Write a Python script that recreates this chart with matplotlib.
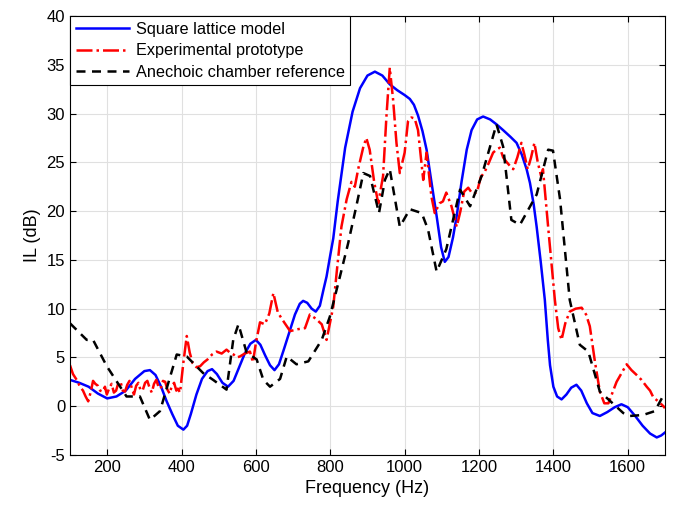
import numpy as np
import matplotlib.pyplot as plt

plt.rcParams['font.family'] = ['Liberation Sans', 'DejaVu Sans']
plt.rcParams['axes.unicode_minus'] = False

# Square lattice model (smooth)
f_model = [100, 125, 150, 175, 200, 225, 250, 275, 300, 315, 330, 345, 360, 375,
           390, 405, 415, 425, 440, 455, 470, 482, 495, 510, 525, 540, 555, 570,
           585, 600, 612, 625, 638, 650, 662, 675, 690, 705, 718, 727, 738, 750,
           761, 772, 782, 790, 800, 808, 820, 840, 860, 880, 900, 920, 940, 960,
           980, 1000, 1014, 1025, 1036, 1048, 1059, 1072, 1086, 1098, 1108, 1118,
           1130, 1140, 1153, 1167, 1180, 1195, 1211, 1230, 1247, 1265, 1285, 1301,
           1315, 1328, 1337, 1347, 1355, 1366, 1377, 1385, 1391, 1400, 1410, 1422,
           1435, 1448, 1462, 1475, 1490, 1505, 1525, 1545, 1565, 1583, 1600, 1620,
           1640, 1660, 1678, 1690, 1700]
il_model = [2.7, 2.4, 2.0, 1.3, 0.8, 1.0, 1.6, 2.8, 3.6, 3.7, 3.2, 2.0, 0.5, -0.8,
            -2.0, -2.4, -2.0, -0.8, 1.2, 2.8, 3.6, 3.8, 3.3, 2.4, 2.0, 2.6, 4.0, 5.4,
            6.4, 6.8, 6.3, 5.2, 4.2, 3.7, 4.3, 5.8, 7.6, 9.4, 10.5, 10.8, 10.6, 10.0,
            9.7, 10.3, 12.0, 13.3, 15.5, 17.2, 21.0, 26.5, 30.2, 32.6, 33.9, 34.3, 33.9, 33.0,
            32.4, 31.9, 31.5, 30.9, 29.8, 28.2, 26.3, 23.0, 19.5, 16.3, 14.8, 15.3,
            17.3, 19.5, 23.0, 26.3, 28.3, 29.4, 29.7, 29.4, 28.9, 28.3, 27.6, 27.0,
            25.8, 24.3, 22.9, 20.7, 18.4, 14.8, 10.9, 6.8, 4.2, 2.0, 1.0, 0.7,
            1.2, 1.9, 2.2, 1.6, 0.3, -0.7, -1.0, -0.6, -0.1, 0.2, -0.1, -1.0,
            -2.0, -2.8, -3.2, -3.0, -2.7]

# Experimental prototype (noisy)
f_exp = [100, 108, 118, 127, 135, 142, 149, 156, 162, 168, 175, 181, 188, 194, 199,
         206, 212, 218, 224, 230, 236, 242, 248, 254, 260, 266, 272, 278, 284, 290,
         296, 302, 308, 314, 320, 326, 332, 338, 344, 350, 356, 362, 368, 374, 380,
         386, 390, 396, 405, 414, 422, 430, 440, 450, 460, 470, 482, 494, 508, 521,
         530, 540, 548, 557, 570, 584, 592, 600, 611, 624, 636, 647, 659, 676, 692,
         713, 732, 745, 760, 777, 790, 808, 818, 830, 844, 857, 866, 875, 889, 897,
         906, 918, 929, 942, 951, 960, 969, 978, 987, 1000, 1009, 1018, 1027, 1036,
         1050, 1059, 1072, 1081, 1094, 1103, 1112, 1126, 1140, 1150, 1160, 1171,
         1182, 1194, 1205, 1215, 1227, 1238, 1247, 1256, 1265, 1275, 1284, 1292,
         1303, 1314, 1322, 1331, 1340, 1349, 1358, 1367, 1372, 1388, 1404, 1413,
         1422, 1432, 1444, 1460, 1476, 1488, 1498, 1512, 1525, 1537, 1548, 1560,
         1570, 1585, 1597, 1610, 1624, 1637, 1651, 1660, 1669, 1682, 1696, 1700]
il_exp = [4.2, 3.3, 2.7, 2.0, 1.6, 1.0, 0.5, 1.5, 2.6, 2.3, 2.1, 1.6, 1.5, 2.0, 1.2,
          1.9, 2.3, 1.4, 1.6, 2.4, 2.5, 1.6, 1.5, 2.2, 2.6, 1.9, 1.2, 2.1, 2.4, 1.6,
          1.7, 2.4, 2.6, 1.9, 1.4, 2.3, 2.7, 2.0, 1.8, 2.6, 2.5, 1.7, 1.3, 2.1, 2.4,
          1.6, 1.8, 1.4, 4.5, 7.2, 5.5, 4.4, 4.0, 4.1, 4.5, 4.8, 5.3, 5.6, 5.4, 5.8,
          5.5, 5.3, 5.0, 5.1, 5.4, 5.6, 4.5, 6.5, 8.6, 8.4, 9.5, 11.6, 9.6, 8.6, 7.7,
          7.9, 8.0, 9.4, 9.0, 8.4, 6.8, 10.2, 14.0, 18.4, 21.2, 23.0, 22.5, 24.3, 26.6, 27.5,
          26.3, 23.0, 20.8, 23.6, 29.7, 34.7, 31.4, 27.0, 23.9, 26.0, 29.2, 29.6, 29.5, 28.3,
          23.2, 26.0, 21.5, 19.8, 20.8, 21.0, 21.9, 20.5, 18.4, 20.0, 22.0, 22.4,
          21.8, 21.9, 23.5, 24.0, 25.0, 26.0, 26.3, 26.5, 25.5, 25.0, 24.6, 24.3,
          25.5, 27.0, 25.8, 24.3, 25.5, 27.0, 25.0, 23.6, 24.3, 17.5, 10.9, 8.0,
          6.8, 8.5, 9.7, 10.0, 10.1, 9.4, 8.2, 4.5, 1.5, 0.3, 0.3, 1.5,
          2.5, 3.5, 4.3, 3.7, 3.2, 2.7, 2.0, 1.6, 0.9, 0.5, 0.0, -0.2]

# Anechoic chamber reference
f_ref = [100, 145, 162, 199, 252, 288, 315, 342, 387, 414, 458, 485, 521, 539,
         553, 575, 602, 620, 638, 665, 683, 709, 741, 777, 799, 826, 848, 870,
         889, 907, 931, 947, 960, 987, 1014, 1046, 1063, 1086, 1112, 1149, 1176,
         1207, 1247, 1265, 1287, 1310, 1355, 1386, 1399, 1418, 1444, 1471, 1494,
         1525, 1588, 1605, 1641, 1673, 1700]
il_ref = [8.5, 6.8, 6.8, 4.1, 1.0, 1.0, -1.4, -0.5, 5.3, 5.1, 3.4, 2.7, 1.7, 6.8,
          8.4, 5.5, 4.8, 2.7, 2.0, 2.8, 5.1, 4.3, 4.6, 6.8, 9.2, 13.3, 16.7, 20.5,
          23.9, 23.6, 19.8, 23.2, 24.3, 18.4, 20.2, 19.8, 18.1, 13.8, 16.1, 22.2, 20.5,
          23.6, 28.9, 26.6, 19.1, 18.6, 21.7, 26.3, 26.2, 21.2, 10.9, 6.3, 5.6,
          1.5, -0.7, -1.0, -0.9, -0.5, 1.4]

fig = plt.figure(figsize=(6.73, 5.11), dpi=100)
ax = fig.add_axes([0.104, 0.1096, 0.884, 0.859])

ax.plot(f_model, il_model, color='#0000ff', lw=1.8, label='Square lattice model')
ax.plot(f_exp, il_exp, color='#ff0000', lw=1.8, ls='-.', label='Experimental prototype')
ax.plot(f_ref, il_ref, color='black', lw=1.8, ls=(0, (3.6, 2.6)), label='Anechoic chamber reference')

ax.set_xlim(100, 1700)
ax.set_ylim(-5, 40)
ax.set_xticks(np.arange(200, 1700, 200))
ax.set_yticks(np.arange(-5, 41, 5))
ax.grid(True, color='#e0e0e0', lw=0.8)
ax.set_axisbelow(True)
ax.tick_params(direction='in', labelsize=12, top=True, right=True, length=4)
for s in ax.spines.values():
    s.set_linewidth(0.8)

ax.set_xlabel('Frequency (Hz)', fontsize=13)
ax.set_ylabel('IL (dB)', fontsize=13)

leg = ax.legend(loc='upper left', borderaxespad=0, fontsize=11.7, fancybox=False,
                framealpha=1, edgecolor='black', handlelength=3.3,
                borderpad=0.35, labelspacing=0.4, handletextpad=0.4)
leg.get_frame().set_linewidth(0.8)

fig.savefig('out.png', dpi=100)
